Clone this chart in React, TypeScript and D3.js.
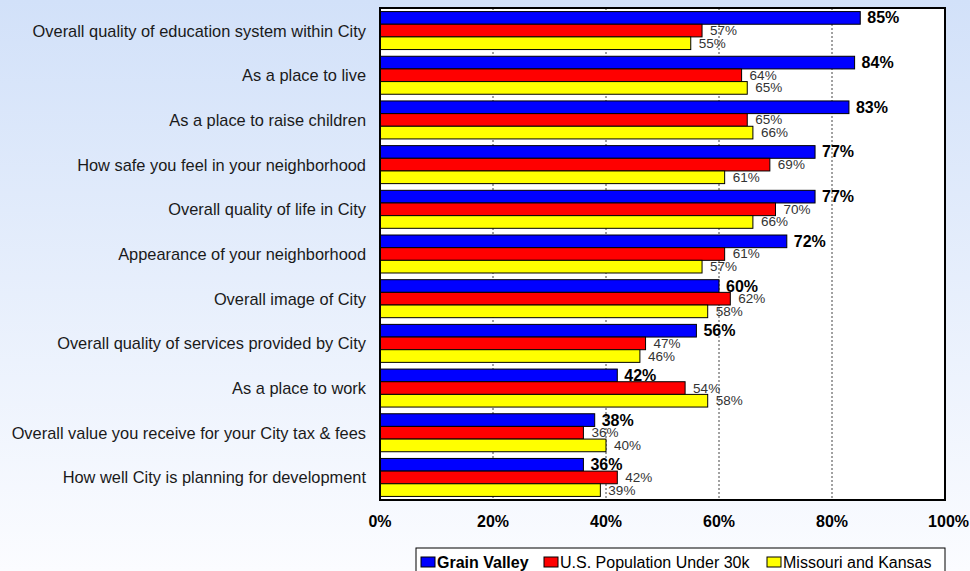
import React from "react";
import * as d3 from "d3";

const categories = [
  "Overall quality of education system within City",
  "As a place to live",
  "As a place to raise children",
  "How safe you feel in your neighborhood",
  "Overall quality of life in City",
  "Appearance of your neighborhood",
  "Overall image of City",
  "Overall quality of services provided by City",
  "As a place to work",
  "Overall value you receive for your City tax & fees",
  "How well City is planning for development",
];

const seriesNames = ["Grain Valley", "U.S. Population Under 30k", "Missouri and Kansas"];
const grainValley = [85, 84, 83, 77, 77, 72, 60, 56, 42, 38, 36];
const usUnder30k = [57, 64, 65, 69, 70, 61, 62, 47, 54, 36, 42];
const missouriKansas = [55, 65, 66, 61, 66, 57, 58, 46, 58, 40, 39];
const tickValues = [0, 20, 40, 60, 80, 100];
const tickLabels = ["0%", "20%", "40%", "60%", "80%", "100%"];

const colors = ["#0000ff", "#ff0000", "#ffff00"];
const W = 970;
const H = 571;

export default function App() {
  const seriesValues = [grainValley, usUnder30k, missouriKansas];
  const plot = { left: 380, right: 945, top: 8, bottom: 500 };
  const x = d3.scaleLinear().domain([0, 100]).range([plot.left, plot.right]);
  const y = d3
    .scaleBand<string>()
    .domain(categories)
    .range([plot.top, plot.bottom])
    .paddingInner(0.15)
    .paddingOuter(0.08);
  const inner = d3
    .scaleBand<string>()
    .domain(seriesNames)
    .range([0, y.bandwidth()])
    .padding(0);

  const legendItems = [
    { name: seriesNames[0], x: 421, bold: true },
    { name: seriesNames[1], x: 544, bold: false },
    { name: seriesNames[2], x: 767, bold: false },
  ];

  return (
    <svg
      width={W}
      height={H}
      style={{ position: "absolute", left: 0, top: 0, fontFamily: "Arial, 'Liberation Sans', sans-serif" }}
    >
      <defs>
        <linearGradient id="bg" x1="0" y1="0" x2="0" y2="1">
          <stop offset="0" stopColor="#d2e1f9" />
          <stop offset="1" stopColor="#fbfcff" />
        </linearGradient>
      </defs>
      <rect x={0} y={0} width={W} height={H} fill="url(#bg)" />
      <rect
        x={plot.left}
        y={plot.top}
        width={plot.right - plot.left}
        height={plot.bottom - plot.top}
        fill="#ffffff"
      />
      {tickValues
        .filter((t) => t > 0 && t < 100)
        .map((t) => (
          <line
            key={"g" + t}
            x1={x(t)}
            x2={x(t)}
            y1={plot.top}
            y2={plot.bottom}
            stroke="#444"
            strokeWidth={1}
            strokeDasharray="2,2"
          />
        ))}
      {categories.map((c, i) => (
        <g key={c} transform={`translate(0,${y(c)})`}>
          {seriesNames.map((s, k) => {
            const v = seriesValues[k][i];
            const by = inner(s)!;
            const bh = inner.bandwidth();
            return (
              <g key={s}>
                <rect
                  x={x(0)}
                  y={by}
                  width={x(v) - x(0)}
                  height={bh}
                  fill={colors[k]}
                  stroke="#000"
                  strokeWidth={1}
                />
                <text
                  x={x(v) + (k === 0 ? 7 : 8)}
                  y={by + bh / 2}
                  dominantBaseline="central"
                  fontSize={k === 0 ? 16 : 13.5}
                  fontWeight={k === 0 ? "bold" : "normal"}
                  fill={k === 0 ? "#000" : "#333"}
                >
                  {v}%
                </text>
              </g>
            );
          })}
          <text
            x={366}
            y={y.bandwidth() / 2}
            textAnchor="end"
            dominantBaseline="central"
            fontSize={16.4}
            fill="#1a1a1a"
          >
            {c}
          </text>
        </g>
      ))}
      <rect
        x={plot.left}
        y={plot.top}
        width={plot.right - plot.left}
        height={plot.bottom - plot.top}
        fill="none"
        stroke="#000"
        strokeWidth={2}
      />
      {tickValues.map((t, i) => (
        <text
          key={"t" + t}
          x={i === tickValues.length - 1 ? W - 1 : x(t)}
          y={521}
          textAnchor={i === tickValues.length - 1 ? "end" : "middle"}
          dominantBaseline="central"
          fontSize={16}
          fontWeight="bold"
          fill="#000"
        >
          {tickLabels[i]}
        </text>
      ))}
      <rect x={416} y={548} width={529} height={34} fill="#ffffff" stroke="#000" strokeWidth={1} />
      {legendItems.map((it, k) => (
        <g key={it.name}>
          <rect x={it.x} y={557} width={14} height={10} fill={colors[k]} stroke="#000" strokeWidth={1} />
          <text
            x={it.x + 16}
            y={562}
            dominantBaseline="central"
            fontSize={16}
            fontWeight={it.bold ? "bold" : "normal"}
            fill="#000"
          >
            {it.name}
          </text>
        </g>
      ))}
    </svg>
  );
}
